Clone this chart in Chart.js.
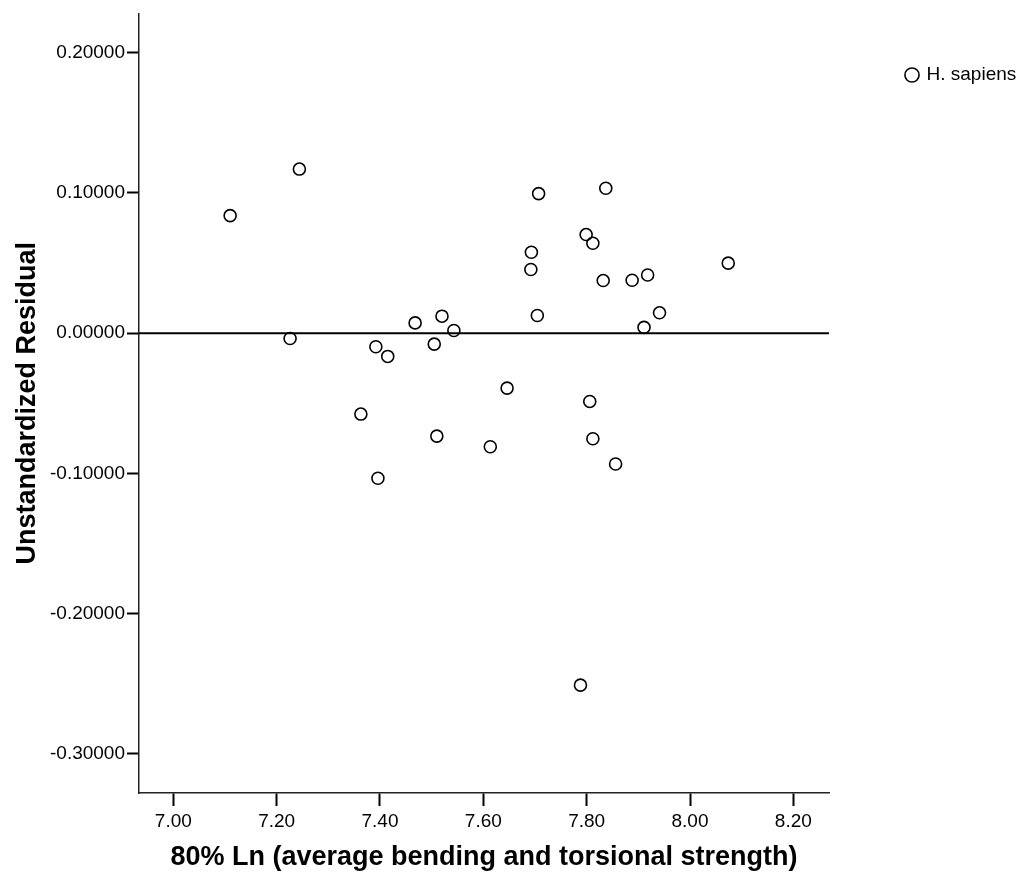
<!DOCTYPE html>
<html>
<head>
<meta charset="utf-8">
<script src="https://cdn.jsdelivr.net/npm/chart.js@4/dist/chart.umd.min.js"></script>
<style>
  html, body { margin: 0; padding: 0; background: #fff; }
  #wrap { width: 1024px; height: 880px; position: relative; }
</style>
</head>
<body>
<div id="wrap"><canvas id="c"></canvas></div>
<script>
// ---- data ----
const seriesLabel = 'H. sapiens';
const xValues = [7.110, 7.244, 7.226, 7.392, 7.415, 7.468, 7.520, 7.543, 7.505, 7.7045,
                 7.646, 7.363, 7.510, 7.6135, 7.396, 7.707, 7.837, 7.799, 7.812, 7.693,
                 7.692, 7.832, 7.888, 7.918, 8.074, 7.941, 7.911, 7.806, 7.812, 7.856, 7.788];
const yValues = [0.0838, 0.1170, -0.0038, -0.0097, -0.0166, 0.0073, 0.0121, 0.0019, -0.0078, 0.0126,
                 -0.0392, -0.0577, -0.0734, -0.0810, -0.1035, 0.0995, 0.1033, 0.0703, 0.0641, 0.0577,
                 0.0454, 0.0375, 0.0377, 0.0415, 0.0499, 0.0145, 0.0041, -0.0487, -0.0753, -0.0933, -0.2510];
const xTicks = [7.0, 7.2, 7.4, 7.6, 7.8, 8.0, 8.2];
const yTicks = [-0.3, -0.2, -0.1, 0.0, 0.1, 0.2];
const refLineY = 0;
const xTitle = '80% Ln (average bending and torsional strength)';
const yTitle = 'Unstandardized Residual';

const points = xValues.map((x, i) => ({ x: x, y: yValues[i] }));
const FONT = "'Liberation Sans', Arial, Helvetica, sans-serif";

const refLinePlugin = {
  id: 'refLine',
  beforeDatasetsDraw(chart) {
    const { ctx, chartArea, scales } = chart;
    const y = scales.y.getPixelForValue(refLineY);
    ctx.save();
    ctx.strokeStyle = '#000';
    ctx.lineWidth = 2;
    ctx.beginPath();
    ctx.moveTo(chartArea.left, y);
    ctx.lineTo(chartArea.right, y);
    ctx.stroke();
    ctx.restore();
  }
};

const legendPlace = {
  id: 'legendPlace',
  afterLayout(chart) {
    const lg = chart.legend;
    if (!lg) return;
    lg.left = 897; lg.right = 1024;
    lg.top = 55.5; lg.bottom = 200;
    lg.width = lg.right - lg.left; lg.height = lg.bottom - lg.top;
  }
};

new Chart(document.getElementById('c'), {
  type: 'scatter',
  data: {
    datasets: [{
      label: seriesLabel,
      data: points,
      pointStyle: 'circle',
      pointRadius: 6,
      pointHoverRadius: 6,
      borderColor: '#000',
      backgroundColor: 'rgba(0,0,0,0)',
      borderWidth: 1.6
    }]
  },
  options: {
    responsive: true,
    maintainAspectRatio: false,
    animation: false,
    devicePixelRatio: 1,
    layout: { padding: { top: 13, right: 195, bottom: 0, left: 0 } },
    plugins: {
      legend: {
        display: true,
        position: 'chartArea',
        align: 'start',
        labels: {
          usePointStyle: true,
          pointStyle: 'circle',
          boxWidth: 10,
          boxHeight: 10,
          padding: 10,
          color: '#000',
          font: { family: FONT, size: 19 }
        }
      },
      tooltip: { enabled: false }
    },
    scales: {
      x: {
        type: 'linear',
        min: 6.9336,
        max: 8.269,
        afterBuildTicks: (s) => { s.ticks = xTicks.map(v => ({ value: v })); },
        afterFit: (s) => { s.height = 87; },
        ticks: {
          callback: (v) => Number(v).toFixed(2),
          color: '#000',
          padding: 4,
          maxRotation: 0,
          font: { family: FONT, size: 19 }
        },
        grid: { display: true, drawOnChartArea: false, drawTicks: true, tickLength: 13, tickColor: '#000', tickWidth: 2 },
        border: { display: true, color: '#222', width: 1.5 },
        title: {
          display: true,
          text: xTitle,
          color: '#000',
          padding: { top: 0, bottom: 6 },
          font: { family: FONT, size: 27, weight: 'bold' }
        }
      },
      y: {
        type: 'linear',
        min: -0.3279,
        max: 0.228,
        afterBuildTicks: (s) => { s.ticks = yTicks.map(v => ({ value: v })); },
        afterFit: (s) => { s.width = 139; },
        ticks: {
          callback: (v) => Number(v).toFixed(5),
          color: '#000',
          padding: 2,
          font: { family: FONT, size: 19 }
        },
        grid: { display: true, drawOnChartArea: false, drawTicks: true, tickLength: 12, tickColor: '#000', tickWidth: 2 },
        border: { display: true, color: '#222', width: 1.5 },
        title: {
          display: true,
          text: yTitle,
          color: '#000',
          padding: { top: 11, bottom: 0 },
          font: { family: FONT, size: 27, weight: 'bold' }
        }
      }
    }
  },
  plugins: [refLinePlugin, legendPlace]
});
</script>
</body>
</html>
